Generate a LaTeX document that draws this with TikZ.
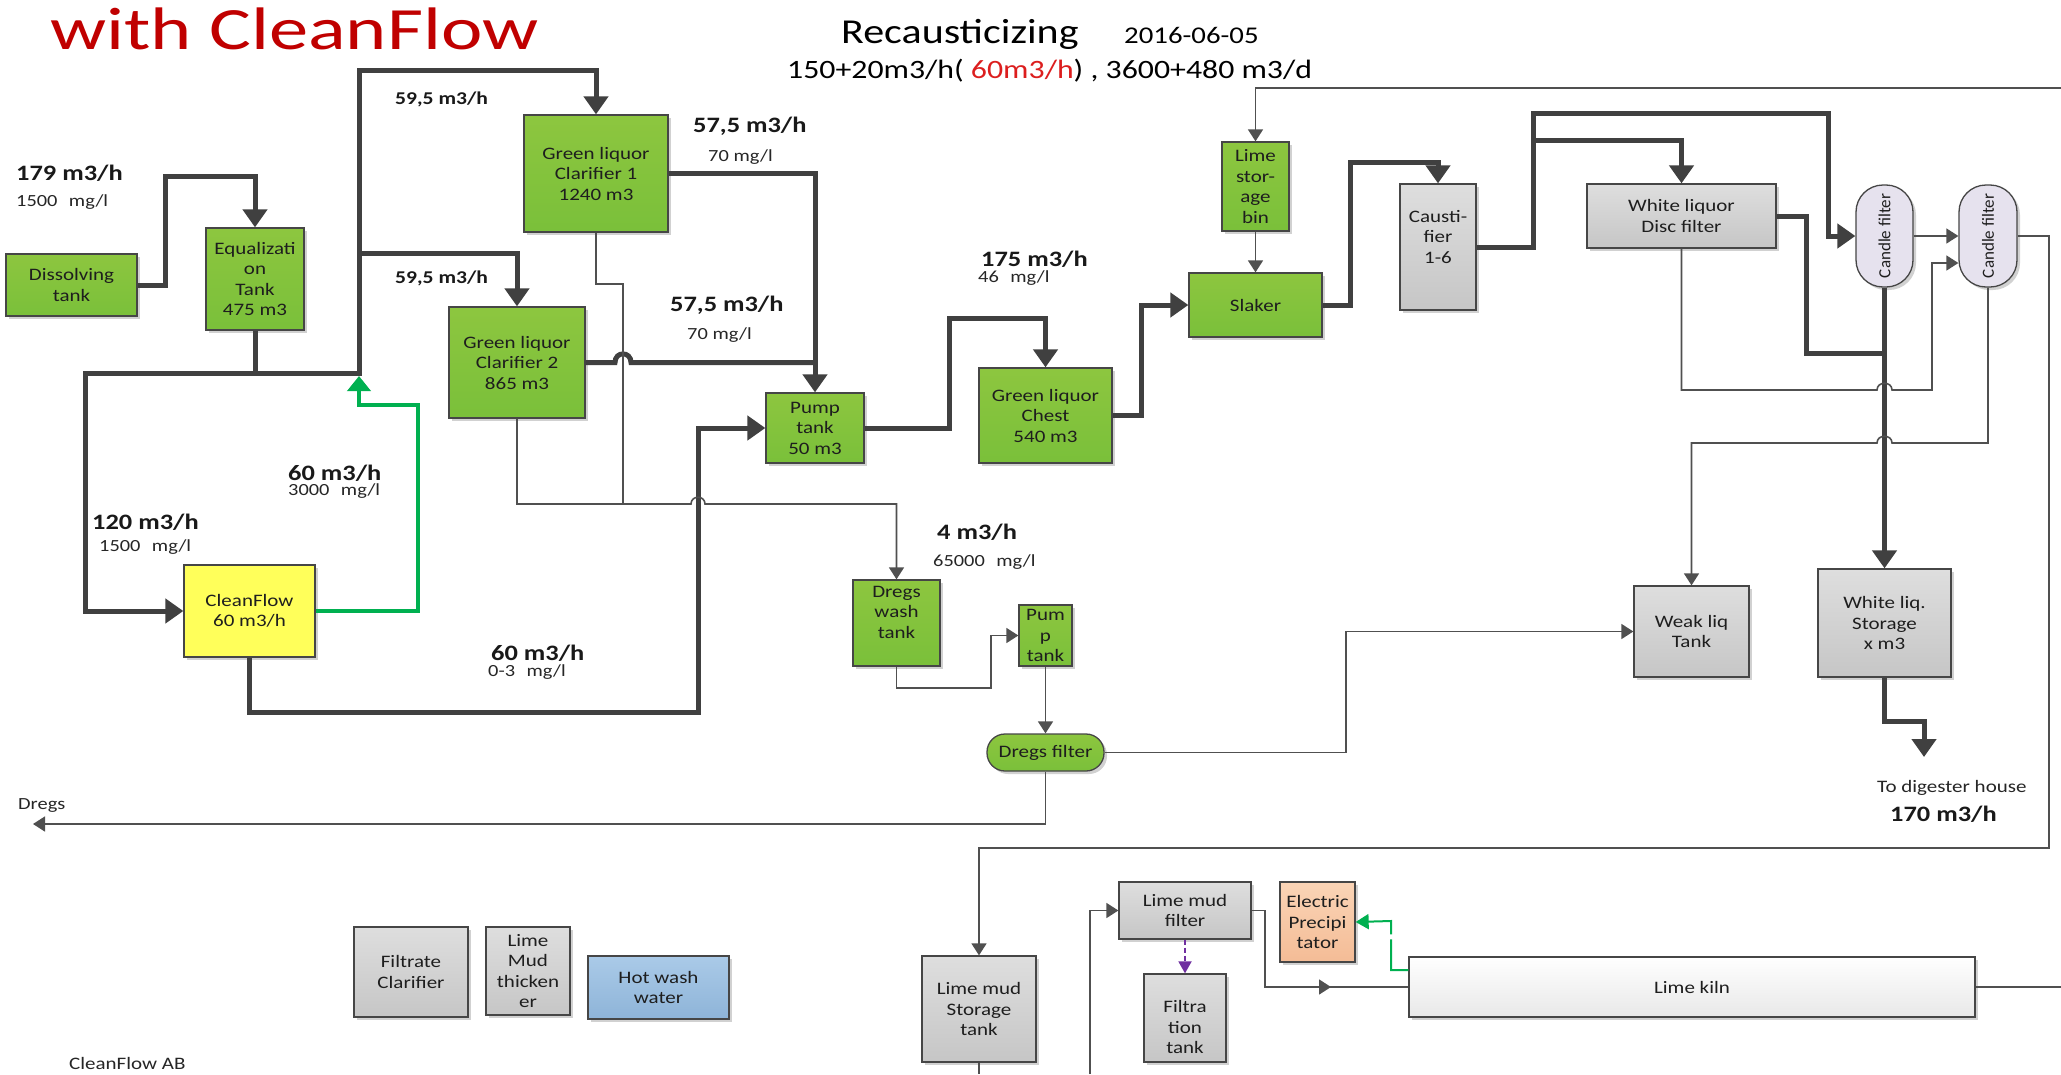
\documentclass[tikz,border=0pt]{standalone}
\usepackage{fontspec}
\setmainfont{Carlito}[FakeStretch=1.2]
\newfontfamily\plainfont{Carlito}
\usetikzlibrary{arrows.meta,shadows,calc}
\definecolor{lineDark}{RGB}{64,64,64}
\definecolor{lineMid}{RGB}{80,80,80}
\definecolor{boxBorder}{RGB}{70,70,70}
\definecolor{gTop}{RGB}{141,198,63}
\definecolor{gBot}{RGB}{122,192,58}
\definecolor{grTop}{RGB}{222,222,222}
\definecolor{grBot}{RGB}{198,198,198}
\definecolor{yel}{RGB}{255,255,90}
\definecolor{blTop}{RGB}{170,202,232}
\definecolor{blBot}{RGB}{142,180,216}
\definecolor{orTop}{RGB}{250,212,182}
\definecolor{orBot}{RGB}{244,188,150}
\definecolor{lav}{RGB}{230,226,238}
\definecolor{flowGreen}{RGB}{0,176,80}
\definecolor{purp}{RGB}{112,48,160}
\definecolor{titleRed}{RGB}{192,0,0}
\definecolor{subRed}{RGB}{220,30,30}
\definecolor{txtc}{RGB}{30,30,30}
\newcommand{\boxfont}{\fontsize{17.5}{20.5}\selectfont}
\begin{document}
\begin{tikzpicture}[x=1pt,y=-1pt,
  procbox/.style={draw=boxBorder, line width=1.3pt, align=center, inner sep=0pt,
    font=\boxfont, text=txtc,
    drop shadow={shadow xshift=3pt, shadow yshift=-3pt, opacity=0.18, fill=black}},
  gbox/.style={procbox, top color=gTop, bottom color=gBot},
  grbox/.style={procbox, top color=grTop, bottom color=grBot},
  ybox/.style={procbox, fill=yel},
  blbox/.style={procbox, top color=blTop, bottom color=blBot},
  orbox/.style={procbox, top color=orTop, bottom color=orBot},
  kbox/.style={procbox, top color=white, bottom color=black!9},
  candle/.style={draw=boxBorder, line width=1.3pt, fill=lav, rounded corners=27pt,
    minimum width=57pt, minimum height=102pt, inner sep=0pt,
    drop shadow={shadow xshift=3pt, shadow yshift=-3pt, opacity=0.18, fill=black}},
  txt/.style={align=center, inner sep=0pt, font=\boxfont, text=txtc},
  thk/.style={draw=lineDark, line width=5pt},
  thn/.style={draw=lineMid, line width=1.6pt},
  tipT/.style={-{Triangle[length=18pt,width=24pt]}},
  tipt/.style={-{Triangle[length=12pt,width=15pt]}},
  flowlbl/.style={anchor=west, inner sep=0pt, font=\fontsize{22}{24}\selectfont\bfseries, text=black!90},
  flowsm/.style={anchor=west, inner sep=0pt, font=\fontsize{18}{20}\selectfont\bfseries, text=black!90},
  smlbl/.style={anchor=west, inner sep=0pt, font=\fontsize{17}{19}\selectfont, text=black!85}
]
\fill[white] (0,0) rectangle (2061,1074);
\useasboundingbox (0,0) rectangle (2061,1074);

% titles
\node[anchor=base west, inner sep=0pt, text=titleRed, font=\fontsize{60}{60}\selectfont] (title) at (50,49) {\scalebox{1.09}[1]{with CleanFlow}};
\node[anchor=base west, inner sep=0pt, font=\fontsize{35}{35}\selectfont] (rec) at (841,43) {Recausticizing};
\node[anchor=base west, inner sep=0pt, font=\fontsize{24}{24}\selectfont] (date) at (1124,43) {2016-06-05};
\node[anchor=base west, inner sep=0pt, font=\fontsize{26.5}{26.5}\selectfont] (cap) at (787,78) {150+20m3/h( \textcolor{subRed}{60m3/h}) , 3600+480 m3/d};

% boxes
\node[gbox, minimum width=131pt, minimum height=62pt] (diss) at (71.5,285) {Dissolving\\tank};
\node[gbox, minimum width=98pt, minimum height=102pt] (eq) at (255,279) {Equalizati\\on\\Tank\\475 m3};
\node[gbox, minimum width=144pt, minimum height=117pt] (gl1) at (596,173.5) {Green liquor\\Clarifier 1\\1240 m3};
\node[gbox, minimum width=136pt, minimum height=111pt] (gl2) at (517,362.5) {Green liquor\\Clarifier 2\\865 m3};
\node[ybox, minimum width=131pt, minimum height=92pt] (cf) at (249.5,611) {CleanFlow\\60 m3/h};
\node[gbox, minimum width=98pt, minimum height=70pt] (pump) at (815,428) {Pump\\tank\\50 m3};
\node[gbox, minimum width=133pt, minimum height=95pt] (chest) at (1045.5,415.5) {Green liquor\\Chest\\540 m3};
\node[gbox, minimum width=133pt, minimum height=64pt] (slaker) at (1255.5,305) {Slaker};
\node[gbox, minimum width=67pt, minimum height=89pt] (limebin) at (1255.5,186.5) {Lime\\stor-\\age\\bin};
\node[grbox, minimum width=76pt, minimum height=126pt] (caust) at (1438,247) {};
\node[txt] (caustt) at (1438,237) {Causti-\\fier\\1-6};
\node[grbox, minimum width=189pt, minimum height=64pt] (disc) at (1681.5,216) {White liquor\\Disc filter};
\node[candle] (cand1) at (1884.5,236) {};
\node[candle, minimum width=58pt] (cand2) at (1988,236) {};
\node[rotate=90, inner sep=0pt, text=txtc, font=\plainfont\fontsize{17}{19}\selectfont] (cand1t) at (cand1) {Candle filter};
\node[rotate=90, inner sep=0pt, text=txtc, font=\plainfont\fontsize{17}{19}\selectfont] (cand2t) at (cand2) {Candle filter};
\node[grbox, minimum width=115pt, minimum height=91pt] (weak) at (1691.5,631.5) {Weak liq\\Tank};
\node[grbox, minimum width=133pt, minimum height=108pt] (wstore) at (1884.5,623) {White liq.\\Storage\\x m3};
\node[gbox, minimum width=87pt, minimum height=86pt] (dwash) at (896.5,623) {};
\node[txt] (dwasht) at (896.5,612) {Dregs\\wash\\tank};
\node[gbox, minimum width=53pt, minimum height=61pt] (spump) at (1045.5,635.5) {Pum\\p\\tank};
\node[gbox, rounded corners=18pt, minimum width=117pt, minimum height=37pt] (dfilter) at (1045.5,752.5) {Dregs filter};
\node[grbox, minimum width=114pt, minimum height=90pt] (filtclar) at (411,972) {Filtrate\\Clarifier};
\node[grbox, minimum width=84pt, minimum height=88pt] (lmthick) at (528,971) {Lime\\Mud\\thicken\\er};
\node[blbox, minimum width=141pt, minimum height=63pt] (hotwash) at (658.5,987.5) {Hot wash\\water};
\node[grbox, minimum width=114pt, minimum height=106pt] (lmstore) at (979,1009) {Lime mud\\Storage\\tank};
\node[grbox, minimum width=132pt, minimum height=57pt] (lmfilter) at (1185,910.5) {Lime mud\\filter};
\node[grbox, minimum width=82pt, minimum height=88pt] (filtank) at (1185,1018) {};
\node[txt] (filtankt) at (1185,1027) {Filtra\\tion\\tank};
\node[orbox, minimum width=75pt, minimum height=80pt] (elprec) at (1317.5,922) {Electric\\Precipi\\tator};
\node[kbox, minimum width=566pt, minimum height=60pt] (kiln) at (1692,987) {Lime kiln};

% labels
\node[flowlbl] (l179) at (16,173) {179 m3/h};
\node[smlbl] (l1500a) at (16,202) {1500\hspace{0.4em} mg/l};
\node[flowsm] (l595a) at (395,99) {59,5 m3/h};
\node[flowsm] (l595b) at (395,278) {59,5 m3/h};
\node[flowlbl] (l575a) at (693,126) {57,5 m3/h};
\node[smlbl] (l70a) at (708,157) {70 mg/l};
\node[flowlbl] (l575b) at (670,305) {57,5 m3/h};
\node[smlbl] (l70b) at (687,335) {70 mg/l};
\node[flowlbl] (l175) at (981,259) {175 m3/h};
\node[smlbl] (l46) at (978,278) {46\hspace{0.4em} mg/l};
\node[flowlbl] (l60g) at (288,473) {60 m3/h};
\node[smlbl] (l3000) at (288,491) {3000\hspace{0.4em} mg/l};
\node[flowlbl] (l120) at (92,522) {120 m3/h};
\node[smlbl] (l1500b) at (99,547) {1500\hspace{0.4em} mg/l};
\node[flowlbl] (l60b) at (491,653) {60 m3/h};
\node[smlbl] (l03) at (488,672) {0-3\hspace{0.4em} mg/l};
\node[flowlbl] (l4) at (937,532) {4 m3/h};
\node[smlbl] (l65000) at (933,562) {65000\hspace{0.4em} mg/l};
\node[smlbl, font=\fontsize{17.5}{19}\selectfont] (ltodig) at (1877,788) {To digester house};
\node[flowlbl] (l170) at (1890,814) {170 m3/h};
\node[smlbl] (ldregs) at (18,805) {Dregs};
\node[smlbl, font=\fontsize{17.5}{19}\selectfont] (lcfab) at (69,1063) {CleanFlow AB};

% thick connectors
\draw[thk, tipT] (diss.east) -- (165,285) -- (165,176) -| (eq.north);
\draw[thk, {Triangle[length=18pt,width=24pt]}-{Triangle[length=18pt,width=24pt]}] (cf.west) -| (85,373) -- (359,373) -- (359,70) -| (gl1.north);
\draw[thk] (eq.south) -- (255,373);
\draw[thk, tipT] (359,253) -| (gl2.north);
\draw[thk, tipT] (gl1.east) -| (pump.north);
\draw[thk] (gl2.east) -- (615,362.5) .. controls (615,351) and (631,351) .. (631,362.5) -- (815,362.5);
\draw[thk, tipT] (cf.south) |- (698,712) -- (698,428) -- (pump.west);
\draw[thk, tipT] (pump.east) -| (949,318) -| (chest.north);
\draw[thk, tipT] (chest.east) -| (1141,305) -- (slaker.west);
\draw[thk, tipT] (slaker.east) -| (1350,162) -| (caust.north);
\draw[thk, tipT] (caust.east) -| (1533,113) -| (1828,236) -- (cand1.west);
\draw[thk, tipT] (1533,140) -| (disc.north);
\draw[thk] (disc.east) -| (1806,353) -- (1884.5,353);
\draw[thk, tipT] (cand1.south) -- (wstore.north);
\coordinate (todig) at (1924,757);
\draw[thk, tipT] (wstore.south) |- (1924,721) -- (todig);

% green return
\draw[flowGreen, line width=4pt, -{Triangle[length=15pt,width=23pt]}] (cf.east) -| (418,405) -| (359,376);

% thin connectors
\draw[thn] (gl1.south) -- (596,284) -| (623,504);
\draw[thn, tipt] (gl2.south) |- (691,504) .. controls (691,495) and (705,495) .. (705,504) -| (dwash.north);
\draw[thn, tipt] (dwash.south) -- (896.5,688) -| (991,635.5) -- (spump.west);
\draw[thn, tipt] (spump.south) -- (dfilter.north);
\draw[thn, tipt] (dfilter.east) -| (1346,631.5) -- (weak.west);
\coordinate (dregsend) at (33,824);
\draw[thn, tipt] (dfilter.south) |- (dregsend);
\coordinate (limein) at (2061,88);
\draw[thn, tipt] (limein) -| (limebin.north);
\draw[thn, tipt] (limebin.south) -- (slaker.north);
\draw[thn, tipt] (cand1.east) -- (cand2.west);
\draw[thn, tipt] (disc.south) |- (1877,390) .. controls (1877,381) and (1892,381) .. (1892,390) -| (1932,263) -- (cand2.west |- 0,263);
\draw[thn, tipt] (cand2.south) |- (1892,443) .. controls (1892,434) and (1877,434) .. (1877,443) -| (weak.north);
\draw[thn, tipt] (cand2.east) -| (2049,848) -| (lmstore.north);
\coordinate (lmout) at (979,1074);
\draw[thn] (lmstore.south) -- (lmout);
\coordinate (lmin) at (1090,1074);
\draw[thn, tipt] (lmin) |- (lmfilter.west);
\draw[thn] (lmfilter.east) -| (1265,987) -- (kiln.west);
\draw[thn, tipt] (1265,987) -- (1331,987);
\coordinate (kilnout) at (2061,987);
\draw[thn] (kiln.east) -- (kilnout);
\draw[purp, line width=1.8pt, dash pattern=on 5pt off 3pt, -{Triangle[length=12pt,width=13pt]}] (lmfilter.south) -- (filtank.north);
\draw[flowGreen, line width=2pt, dash pattern=on 48pt off 5pt, -{Triangle[length=13pt,width=15pt]}] (kiln.west |- 0,970) -- (1391,970) -- (1391,921) -- (elprec.east);
\end{tikzpicture}
\end{document}
